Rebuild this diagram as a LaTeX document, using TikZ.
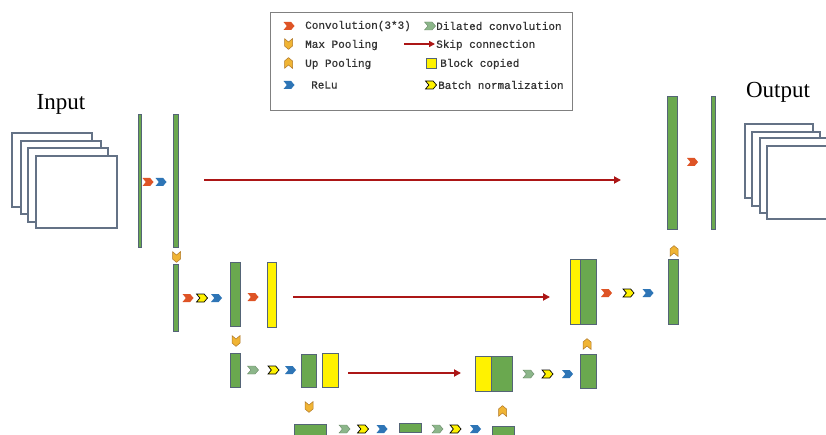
\documentclass[tikz,border=0pt]{standalone}
\usepackage{fontspec}
\setmainfont{Liberation Serif}
\newfontfamily\legendfont[FakeBold=0.6]{Liberation Mono}
\usetikzlibrary{shapes.symbols,arrows.meta}

\definecolor{barGreen}{RGB}{106,168,79}
\definecolor{barEdge}{RGB}{84,100,118}
\definecolor{sheetEdge}{RGB}{100,114,134}
\definecolor{convOrange}{RGB}{222,84,38}
\definecolor{reluBlue}{RGB}{46,117,182}
\definecolor{dilGreen}{RGB}{140,182,138}
\definecolor{poolGold}{RGB}{240,180,52}
\definecolor{poolEdge}{RGB}{176,120,40}
\definecolor{skipRed}{RGB}{172,22,22}
\definecolor{legendEdge}{RGB}{128,128,128}

\tikzset{
  chev/.style={signal, signal to=east, signal from=west, signal pointer angle=100,
    minimum width=11pt, minimum height=8pt, inner sep=0pt, draw=none},
  conv/.style={chev, fill=convOrange},
  relu/.style={chev, fill=reluBlue},
  dil/.style={chev, fill=dilGreen, draw=dilGreen!75!black, line width=0.4pt},
  bnorm/.style={chev, fill=yellow, draw=black, line width=0.7pt},
  poolbase/.style={signal, signal pointer angle=100,
    minimum width=8pt, minimum height=4pt, inner sep=0pt,
    fill=poolGold, draw=poolEdge, line width=0.5pt},
  mpool/.style={poolbase, signal to=south, signal from=north},
  upool/.style={poolbase, signal to=north, signal from=south},
  bar/.style={rectangle, draw=barEdge, line width=1pt, inner sep=0pt, fill=barGreen},
  copyblk/.style={bar, fill=yellow},
  sheet/.style={rectangle, draw=sheetEdge, line width=1.1pt, fill=white, inner sep=0pt},
  skip/.style={draw=skipRed, line width=1.8pt, -{Triangle[length=7pt,width=7pt]}},
  legtext/.style={font=\legendfont\fontsize{11}{13}\selectfont, text=black!80,
    inner sep=0pt, anchor=west},
  title/.style={font=\fontsize{23}{26}\selectfont, inner sep=0pt},
}

\begin{document}
\begin{tikzpicture}[x=1pt,y=-1pt]
\useasboundingbox (0,0) rectangle (826,435);
\clip (0,0) rectangle (826,435);
\fill[white] (0,0) rectangle (826,435);

% ---- legend ----
\node[rectangle, draw=legendEdge, line width=0.8pt, fill=white,
      minimum width=302pt, minimum height=98pt, inner sep=0pt] (legend) at (421,61) {};
\node[conv]  (lgconv) at (289,26) {};
\node[legtext] (lgconvT) at (305,26) {Convolution(3*3)};
\node[dil]   (lgdil) at (430,26) {};
\node[legtext] (lgdilT) at (436,26) {Dilated convolution};
\node[mpool] (lgmp) at (288.5,44) {};
\node[legtext] (lgmpT) at (305,45) {Max Pooling};
\coordinate (lgskipA) at (404,44);
\coordinate (lgskipB) at (435,44);
\draw[skip, line width=1.5pt, -{Triangle[length=6pt,width=6pt]}] (lgskipA) -- (lgskipB);
\node[legtext] (lgskipT) at (436,45) {Skip connection};
\node[upool] (lgup) at (288.5,63) {};
\node[legtext] (lgupT) at (305,64) {Up Pooling};
\node[copyblk, minimum width=10pt, minimum height=10pt] (lgcopy) at (431.5,64) {};
\node[legtext] (lgcopyT) at (440,64) {Block copied};
\node[relu]  (lgrelu) at (289,85) {};
\node[legtext] (lgreluT) at (311,85) {ReLu};
\node[bnorm] (lgbn) at (431,85) {};
\node[legtext] (lgbnT) at (438,85) {Batch normalization};

% ---- input stack ----
\node[title] (inT) at (61,104) {Input};
\node[sheet, minimum width=80pt, minimum height=74pt] (in1) at (52,170) {};
\node[sheet, minimum width=80pt, minimum height=73pt] (in2) at (61,177.5) {};
\node[sheet, minimum width=80pt, minimum height=74pt] (in3) at (68,185) {};
\node[sheet, minimum width=81pt, minimum height=72pt] (in4) at (76.5,192) {};

% ---- output stack ----
\node[title] (outT) at (778,92) {Output};
\node[sheet, minimum width=68pt, minimum height=74pt] (out1) at (779,161) {};
\node[sheet, minimum width=68pt, minimum height=74pt] (out2) at (786,169) {};
\node[sheet, minimum width=68pt, minimum height=75pt] (out3) at (794,175.5) {};
\node[sheet, minimum width=68pt, minimum height=73pt] (out4) at (801,182.5) {};

% ---- level 1 (encoder) ----
\node[bar, minimum width=3pt, minimum height=133pt] (b1) at (140,181) {};
\node[conv] (c11) at (148,182) {};
\node[relu] (r11) at (161,182) {};
\node[bar, minimum width=5pt, minimum height=133pt] (b2) at (176,181) {};
\node[mpool] (mp1) at (176.5,257) {};

% ---- level 2 (encoder) ----
\node[bar, minimum width=5pt, minimum height=67pt] (b3) at (176,298) {};
\node[conv]  (c21) at (188,298) {};
\node[bnorm] (n21) at (202,298) {};
\node[relu]  (r21) at (216.5,298) {};
\node[bar, minimum width=10pt, minimum height=64pt] (b4) at (235.5,294.5) {};
\node[conv]  (c22) at (253,297) {};
\node[copyblk, minimum width=9pt, minimum height=65pt] (y4) at (272,295) {};
\node[mpool] (mp2) at (236,341) {};

% ---- level 3 (encoder) ----
\node[bar, minimum width=10pt, minimum height=34pt] (b5) at (235.5,370.5) {};
\node[dil]   (d31) at (253,370) {};
\node[bnorm] (n31) at (273.5,370) {};
\node[relu]  (r31) at (290.5,370) {};
\node[bar, minimum width=15pt, minimum height=33pt] (b6) at (309,371) {};
\node[copyblk, minimum width=16pt, minimum height=34pt] (y6) at (330.5,370.5) {};
\node[mpool] (mp3) at (309,407) {};

% ---- bottleneck ----
\node[bar, minimum width=32pt, minimum height=11pt] (bb1) at (310.5,430) {};
\node[dil]   (d41) at (344.5,429) {};
\node[bnorm] (n41) at (363,429) {};
\node[relu]  (r41) at (382,429) {};
\node[bar, minimum width=22pt, minimum height=9pt] (bb2) at (410.5,428) {};
\node[dil]   (d42) at (437.5,429) {};
\node[bnorm] (n42) at (455.5,429) {};
\node[relu]  (r42) at (475.5,429) {};
\node[bar, minimum width=22pt, minimum height=10pt] (bb3) at (503.5,431) {};
\node[upool] (up4) at (502.5,411) {};

% ---- level 3 (decoder) ----
\node[copyblk, minimum width=16pt, minimum height=35pt] (cy3) at (483,374) {};
\node[bar, minimum width=21pt, minimum height=35pt] (cg3) at (501.5,374) {};
\node[dil]   (d51) at (528.5,374) {};
\node[bnorm] (n51) at (547.5,374) {};
\node[relu]  (r51) at (567.5,374) {};
\node[bar, minimum width=16pt, minimum height=34pt] (b7) at (588.5,371.5) {};
\node[upool] (up3) at (587,344) {};

% ---- level 2 (decoder) ----
\node[copyblk, minimum width=10pt, minimum height=65pt] (cy2) at (575,292) {};
\node[bar, minimum width=16pt, minimum height=65pt] (cg2) at (588,292) {};
\node[conv]  (c61) at (606.5,293) {};
\node[bnorm] (n61) at (628.5,293) {};
\node[relu]  (r61) at (648,293) {};
\node[bar, minimum width=10pt, minimum height=65pt] (b8) at (673.5,292) {};
\node[upool] (up2) at (674,251) {};

% ---- level 1 (decoder) ----
\node[bar, minimum width=10pt, minimum height=133pt] (b9) at (672.5,163) {};
\node[conv]  (c71) at (692.5,162) {};
\node[bar, minimum width=4pt, minimum height=133pt] (b10) at (713.5,163) {};

% ---- skip connections ----
\coordinate (s1a) at (204,180);
\coordinate (s1b) at (621,180);
\draw[skip] (s1a) -- (s1b);
\coordinate (s2a) at (293,297);
\coordinate (s2b) at (550,297);
\draw[skip] (s2a) -- (s2b);
\coordinate (s3a) at (348,373);
\coordinate (s3b) at (461,373);
\draw[skip] (s3a) -- (s3b);
\end{tikzpicture}
\end{document}
